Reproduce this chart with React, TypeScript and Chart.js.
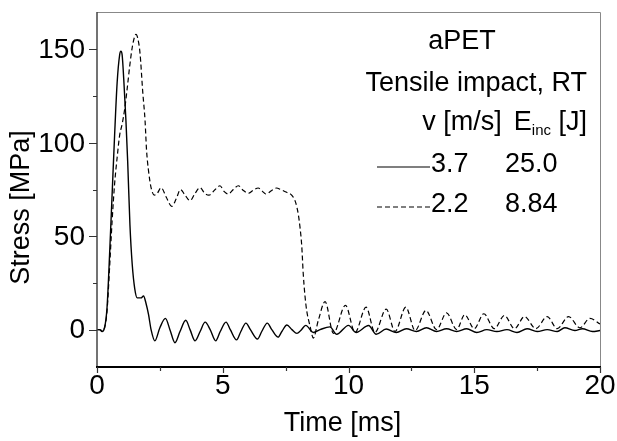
import React, { useEffect, useRef } from "react";
import { Chart, registerables } from "chart.js";

Chart.register(...registerables);

// ---- data (time in ms, stress in MPa) ----
const timeSolid = [0, 0.1, 0.2, 0.3, 0.4, 0.5, 0.6, 0.7, 0.8, 0.9, 0.95, 1.0, 1.08, 1.15, 1.22, 1.31, 1.4, 1.5, 1.6, 1.75, 1.85, 1.95, 2.05, 2.15, 2.3, 2.5, 2.72, 2.9, 3.1, 3.3, 3.53, 3.7, 3.9, 4.1, 4.3, 4.5, 4.72, 4.9, 5.13, 5.3, 5.55, 5.72, 5.92, 6.1, 6.38, 6.55, 6.77, 6.95, 7.2, 7.35, 7.55, 7.75, 7.95, 8.1, 8.3, 8.6, 8.87, 9.26, 9.53, 10.0, 10.3, 10.8, 11.1, 11.5, 11.9, 12.3, 12.7, 13.1, 13.5, 13.9, 14.3, 14.7, 15.1, 15.5, 15.9, 16.3, 16.7, 17.1, 17.5, 17.9, 18.3, 18.6, 19.0, 19.3, 19.7, 20];
const stressSolid = [0, 0, -1, 1, 12, 40, 72, 104, 132, 147, 149, 147, 130, 112, 90, 56, 35, 22, 17, 17, 18, 14, 8, 0, -6, 1, 6, 0, -7, -1, 5, 0, -6, -1, 4, 0, -6, -1, 4, 0, -5.5, -1, 3.5, 0, -5, -1, 3.5, 0, -4, -1, 2.5, 0, -2, -0.5, 2.3, -1.5, 0, 1.5, -2.5, 2.3, -1.5, 2.2, -2.5, 0.3, -1.5, 0.5, -1, 1, -1, 0.5, -1, 0.5, -1.5, 0, -1, 0, -1.5, 0.5, -1, 0, -1, 1, -0.5, 0.5, -1, -0.5];

const timeDashed = [0, 0.1, 0.2, 0.3, 0.4, 0.5, 0.6, 0.7, 0.8, 0.9, 1.0, 1.1, 1.2, 1.3, 1.4, 1.5, 1.55, 1.62, 1.71, 1.82, 1.91, 1.97, 2.04, 2.15, 2.28, 2.4, 2.55, 2.75, 2.97, 3.15, 3.32, 3.5, 3.7, 3.9, 4.1, 4.28, 4.45, 4.7, 4.89, 5.05, 5.22, 5.42, 5.62, 5.82, 6.02, 6.2, 6.41, 6.58, 6.71, 6.95, 7.14, 7.3, 7.54, 7.74, 7.9, 8.0, 8.07, 8.14, 8.2, 8.27, 8.34, 8.47, 8.6, 8.8, 9.07, 9.4, 9.88, 10.26, 10.7, 11.05, 11.5, 11.85, 12.28, 12.65, 13.08, 13.5, 13.9, 14.3, 14.62, 15.0, 15.38, 15.8, 16.2, 16.6, 17.0, 17.45, 17.9, 18.3, 18.75, 19.2, 19.6, 20];
const stressDashed = [0, 0, -0.5, 1, 10, 33, 58, 78, 92, 104, 110, 118, 129, 141, 151, 157, 158, 156, 148, 127, 112, 96, 86, 76, 72, 73, 76, 71, 66, 70, 75, 72, 69, 73, 76, 73, 72, 75, 77, 74, 72.6, 75, 77, 74.5, 73, 74.5, 75.8, 74, 72.6, 74.5, 75.8, 75, 73.5, 72, 68, 62, 55, 45, 30, 18, 10, 2, -4.5, 5, 15, -2, 13, -1.5, 12, -1.5, 11, -1, 12, -0.5, 10.3, 0, 9, 0, 8, 0.5, 8.5, 0.5, 7.6, 0.5, 7, 0.5, 7, 0.5, 7, 1, 6, 3];

const xTicks = [0, 5, 10, 15, 20];
const xMinorTicks = [2.5, 7.5, 12.5, 17.5];
const yTicks = [0, 50, 100, 150];
const yMinorTicks = [25, 75, 125];

const seriesLabels = ["3.7", "2.2"];
const energyLabels = ["25.0", "8.84"];

const FONT = "'Liberation Sans', Arial, Helvetica, sans-serif";
const TICK_FONT = `28px ${FONT}`;
const TEXT_FONT = `27px ${FONT}`;

const overlayPlugin = {
  id: "overlay",
  afterDraw(chart: any) {
    const { ctx, chartArea: ca, scales } = chart;
    const xs = scales.x;
    const ys = scales.y;
    ctx.save();
    // frame
    ctx.strokeStyle = "#888";
    ctx.lineWidth = 1;
    ctx.beginPath();
    ctx.moveTo(ca.left, ca.top + 0.5);
    ctx.lineTo(ca.right + 0.5, ca.top + 0.5);
    ctx.lineTo(ca.right + 0.5, ca.bottom);
    ctx.stroke();
    ctx.strokeStyle = "#444";
    ctx.lineWidth = 1.5;
    ctx.beginPath();
    ctx.moveTo(ca.left, ca.top);
    ctx.lineTo(ca.left, ca.bottom);
    ctx.stroke();
    ctx.strokeStyle = "#000";
    ctx.lineWidth = 2;
    ctx.beginPath();
    ctx.moveTo(ca.left - 1, ca.bottom);
    ctx.lineTo(ca.right + 1, ca.bottom);
    ctx.stroke();
    // ticks
    ctx.lineWidth = 1.2;
    ctx.strokeStyle = "#333";
    ctx.beginPath();
    yTicks.forEach((v) => {
      const y = Math.round(ys.getPixelForValue(v)) + 0.5;
      ctx.moveTo(ca.left - 8, y);
      ctx.lineTo(ca.left, y);
    });
    yMinorTicks.forEach((v) => {
      const y = Math.round(ys.getPixelForValue(v)) + 0.5;
      ctx.moveTo(ca.left - 4, y);
      ctx.lineTo(ca.left, y);
    });
    xTicks.forEach((v) => {
      const x = Math.round(xs.getPixelForValue(v)) + 0.5;
      ctx.moveTo(x, ca.bottom);
      ctx.lineTo(x, ca.bottom + 6);
    });
    xMinorTicks.forEach((v) => {
      const x = Math.round(xs.getPixelForValue(v)) + 0.5;
      ctx.moveTo(x, ca.bottom);
      ctx.lineTo(x, ca.bottom + 4);
    });
    ctx.stroke();

    // tick labels
    ctx.fillStyle = "#000";
    ctx.font = TICK_FONT;
    ctx.textBaseline = "middle";
    ctx.textAlign = "right";
    yTicks.forEach((v) => {
      ctx.fillText(String(v), ca.left - 12, ys.getPixelForValue(v) + 1);
    });
    ctx.textAlign = "center";
    xTicks.forEach((v) => {
      ctx.fillText(String(v), xs.getPixelForValue(v), ca.bottom + 19);
    });

    // axis titles
    ctx.font = TEXT_FONT;
    ctx.textAlign = "center";
    ctx.fillText("Time [ms]", (ca.left + ca.right) / 2 - 6, 424);
    ctx.save();
    ctx.translate(22, (ca.top + ca.bottom) / 2 + 18);
    ctx.rotate(-Math.PI / 2);
    ctx.fillText("Stress [MPa]", 0, 0);
    ctx.restore();

    // legend block
    const r = ca.right - 13;
    ctx.textAlign = "center";
    ctx.fillText("aPET", ca.left + 365, ca.top + 30);
    ctx.textAlign = "right";
    ctx.fillText("Tensile impact, RT", r, ca.top + 72);
    // header row
    const hy = ca.top + 111;
    const wJ = ctx.measureText(" [J]").width;
    ctx.fillText(" [J]", r, hy);
    ctx.font = `15px ${FONT}`;
    const wInc = ctx.measureText("inc").width;
    ctx.textAlign = "left";
    ctx.fillText("inc", r - wJ - wInc, hy + 8);
    ctx.font = TEXT_FONT;
    ctx.textAlign = "right";
    ctx.fillText("E", r - wJ - wInc, hy);
    const wE = ctx.measureText("E").width;
    ctx.fillText("v [m/s]", r - wJ - wInc - wE - 12, hy);

    // sample rows
    const rows = [ca.top + 153, ca.top + 193];
    const lx0 = ca.left + 280;
    const lx1 = ca.left + 333;
    rows.forEach((y, i) => {
      ctx.strokeStyle = "#000";
      ctx.lineWidth = 1.2;
      ctx.setLineDash(i === 0 ? [] : [5, 3]);
      ctx.beginPath();
      ctx.moveTo(lx0, y + 2);
      ctx.lineTo(lx1, y + 2);
      ctx.stroke();
      ctx.setLineDash([]);
      ctx.textAlign = "left";
      ctx.fillText(seriesLabels[i], lx1 + 1, y);
      ctx.fillText(energyLabels[i], ca.left + 408, y);
    });
    ctx.restore();
  },
};

export default function App() {
  const ref = useRef<HTMLCanvasElement | null>(null);
  useEffect(() => {
    if (!ref.current) return;
    const chart = new Chart(ref.current, {
      type: "line",
      data: {
        datasets: [
          {
            label: "3.7",
            data: timeSolid.map((t, i) => ({ x: t, y: stressSolid[i] })),
            borderColor: "#000",
            borderWidth: 1.4,
            pointRadius: 0,
            cubicInterpolationMode: "monotone",
            fill: false,
          },
          {
            label: "2.2",
            data: timeDashed.map((t, i) => ({ x: t, y: stressDashed[i] })),
            borderColor: "#000",
            borderWidth: 1.2,
            borderDash: [5, 3],
            pointRadius: 0,
            cubicInterpolationMode: "monotone",
            fill: false,
          },
        ],
      },
      options: {
        responsive: false,
        animation: false,
        layout: { padding: { left: 0, right: 17, top: 12, bottom: 0 } },
        plugins: { legend: { display: false }, tooltip: { enabled: false } },
        scales: {
          x: {
            type: "linear",
            min: 0,
            max: 20,
            afterBuildTicks: (s: any) => {
              s.ticks = xTicks.map((v) => ({ value: v }));
            },
            afterFit: (s: any) => {
              s.height = 74;
            },
            grid: { display: false },
            border: { display: false },
            ticks: { display: false },
          },
          y: {
            type: "linear",
            min: -20,
            max: 170,
            afterBuildTicks: (s: any) => {
              s.ticks = yTicks.map((v) => ({ value: v }));
            },
            afterFit: (s: any) => {
              s.width = 97;
            },
            grid: { display: false },
            border: { display: false },
            ticks: { display: false },
          },
        },
      },
      plugins: [overlayPlugin],
    });
    return () => chart.destroy();
  }, []);
  return (
    <div style={{ position: "absolute", left: 0, top: 0, width: 617, height: 441, background: "#fff" }}>
      <canvas ref={ref} width={617} height={441} />
    </div>
  );
}
